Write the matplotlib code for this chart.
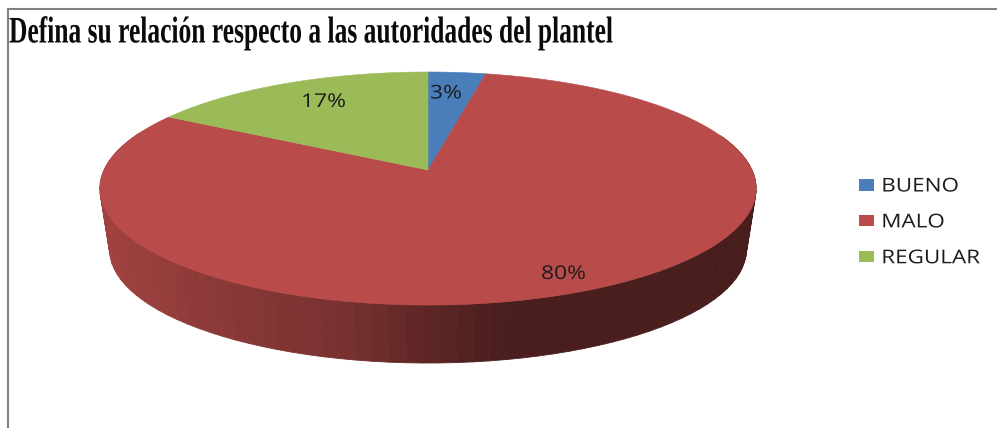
import numpy as np
import matplotlib
matplotlib.use("Agg")
import matplotlib.pyplot as plt
from matplotlib.patches import Polygon, Patch
from matplotlib.collections import PolyCollection
from matplotlib.patheffects import AbstractPathEffect
from matplotlib.transforms import Affine2D

# ---- data ----
categories = ["BUENO", "MALO", "REGULAR"]
values = [3.3, 80.1, 16.6]
title = "Defina su relación respecto a las autoridades del plantel"

# ---- style / layout ----
colors = ["#4A7EBB", "#B94C4A", "#9BBB59"]
text_color = "#1c1c1c"
frame_color = "#808080"
label_xy = [(430, 98.5), (541, 279), (301, 107)]
W, H = 997, 428
CX, CY = 428.0, 170.0
RX, RY, K = 324.0, 113.6, 0.159
DEPTH, SHRINK = 62.0, 0.97
shade_x = [100, 250, 350, 430, 500, 760]
shade_f = [0.87, 0.72, 0.64, 0.50, 0.40, 0.39]


class Stretch(AbstractPathEffect):
    """Scale glyph outlines about the text origin (condensed / expanded look)."""
    def __init__(self, sx=1.0, sy=1.0):
        super().__init__()
        self.sx, self.sy = sx, sy

    def draw_path(self, renderer, gc, tpath, affine, rgbFace=None):
        renderer.draw_path(gc, tpath, Affine2D().scale(self.sx, self.sy) + affine, rgbFace)


def rim(theta, wall=False):
    """Perspective projection of a disc rim; theta clockwise from 12 o'clock."""
    X, Y = np.sin(theta), np.cos(theta)
    w = 1 + K * Y
    x, y = RX * X / w, -RY * Y / w
    if wall:
        x, y = x * SHRINK, y * SHRINK + DEPTH
    return CX + x, CY + y


fig = plt.figure(figsize=(W / 100, H / 100), dpi=100)
ax = fig.add_axes([0, 0, 1, 1])
ax.set_xlim(0, W)
ax.set_ylim(H, 0)
ax.axis("off")

# frame
ax.plot([8, 8, W], [H, 9, 9], color=frame_color, lw=1.5, solid_joinstyle="miter")

# wedge angles
fractions = np.array(values, dtype=float) / np.sum(values)
edges = np.concatenate([[0], np.cumsum(fractions)]) * 2 * np.pi

# side walls (front part only)
for i, col in enumerate(colors):
    base = np.array(matplotlib.colors.to_rgb(col))
    t = np.arange(edges[i], edges[i + 1] + 1e-9, np.radians(2.6))
    t = t[(np.cos(t) < 0.35)]
    if t.size < 2:
        continue
    polys, fcs = [], []
    for a, b in zip(t[:-1], t[1:]):
        x1, y1 = rim(np.array([a, b]))
        x2, y2 = rim(np.array([b, a]), wall=True)
        polys.append(np.column_stack([np.r_[x1, x2], np.r_[y1, y2]]))
        fcs.append(base * np.interp((x1.mean() + x2.mean()) / 2, shade_x, shade_f))
    ax.add_collection(PolyCollection(polys, facecolors=fcs, edgecolors=fcs, linewidths=0.6))

# top face
for i, col in enumerate(colors):
    t = np.linspace(edges[i], edges[i + 1], max(3, int((edges[i + 1] - edges[i]) * 80)))
    x, y = rim(t)
    ax.add_patch(Polygon(np.column_stack([np.r_[CX, x], np.r_[CY, y]]), closed=True,
                         facecolor=col, edgecolor=col, linewidth=0.4))

# percentage labels
for v, (x, y) in zip(values, label_xy):
    ax.text(x, y, f"{v:.0f}%", ha="left", va="baseline", family="Open Sans",
            fontsize=13.7, color=text_color, path_effects=[Stretch(1.2, 1.0)])

# title
ax.text(9, 42.5, title, ha="left", va="baseline", family="Liberation Serif", weight="bold",
        fontsize=27, color="#0a0a0a", path_effects=[Stretch(0.68, 1.0)])

# legend
handles = [Patch(facecolor=c, edgecolor="none") for c in colors]
leg = ax.legend(handles, categories, loc="upper left", bbox_to_anchor=(859, 177.5),
                bbox_transform=ax.transData, frameon=False, borderpad=0, borderaxespad=0,
                prop={"family": "Open Sans", "size": 13.7}, handlelength=0.79,
                handleheight=0.55, handletextpad=0.38, labelspacing=0.94)
for txt in leg.get_texts():
    txt.set_color(text_color)
    txt.set_path_effects([Stretch(1.18, 1.0)])

fig.savefig("out.png", dpi=100, facecolor="white")
